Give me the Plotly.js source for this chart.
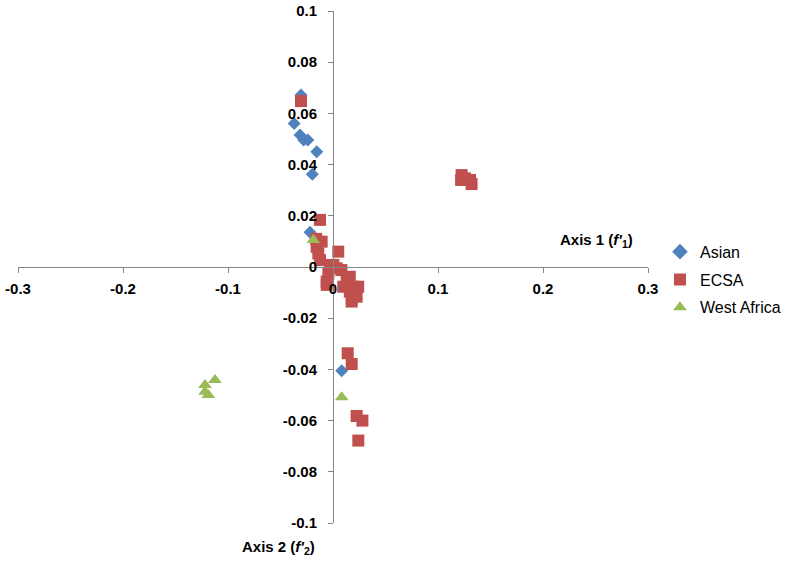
<!DOCTYPE html>
<html>
<head>
<meta charset="utf-8">
<script src="https://cdn.plot.ly/plotly-3.0.1.min.js"></script>
<style>html,body{margin:0;padding:0;background:#fff;}#chart{width:787px;height:561px;}</style>
</head>
<body>
<div id="chart"></div>
<script>
// Series names
const seriesNames = ["Asian", "ECSA", "West Africa"];

// Asian
const asianX = [-0.0305, -0.037, -0.0314, -0.028, -0.024, -0.0155, -0.0197, -0.0219, 0.0083];
const asianY = [0.0672, 0.0561, 0.0516, 0.0496, 0.0496, 0.045, 0.0362, 0.0136, -0.0405];

// ECSA
const ecsaX = [-0.0305, -0.0124, -0.0108, -0.0156, -0.014, -0.0124, -0.016, 0.005, 0.0003, -0.0029,
  0.008, 0.0035, -0.0044, 0.013, 0.016, -0.006, -0.006, 0.0098, 0.019, 0.024,
  0.016, 0.0194, 0.0225, 0.0178, 0.0178, 0.014, 0.0178, 0.0225, 0.028, 0.0241,
  0.1225, 0.1257, 0.1305, 0.132, 0.122];
const ecsaY = [0.0648, 0.0184, 0.0099, 0.0079, 0.0053, 0.0027, 0.011, 0.006, 0.0008, 0.0008,
  -0.0012, -0.0005, -0.0025, -0.005, -0.0038, -0.007, -0.0057, -0.0077, -0.0077, -0.0077,
  -0.0096, -0.009, -0.0116, -0.0122, -0.0135, -0.0337, -0.0379, -0.0582, -0.06, -0.0678,
  0.0359, 0.0346, 0.034, 0.0324, 0.034];

// West Africa
const waX = [-0.0187, -0.1124, -0.1219, -0.1219, -0.1187, 0.0083];
const waY = [0.0105, -0.0441, -0.0461, -0.0487, -0.05, -0.0509];

// Tick values and labels
const xTickVals = [-0.3, -0.2, -0.1, 0, 0.1, 0.2, 0.3];
const xTickText = ["-0.3", "-0.2", "-0.1", "0", "0.1", "0.2", "0.3"];
const yTickVals = [-0.1, -0.08, -0.06, -0.04, -0.02, 0, 0.02, 0.04, 0.06, 0.08, 0.1];
const yTickText = ["-0.1", "-0.08", "-0.06", "-0.04", "-0.02", "0", "0.02", "0.04", "0.06", "0.08", "0.1"];

const FONT = "Liberation Sans, Arial, sans-serif";
const axisColor = "#868686";

const traces = [
  {x: asianX, y: asianY, name: seriesNames[0], type: "scatter", mode: "markers", legendgroup: "a",
   marker: {symbol: "diamond", size: 10, color: "#4F81BD"}},
  {x: ecsaX, y: ecsaY, name: seriesNames[1], type: "scatter", mode: "markers", legendgroup: "b",
   marker: {symbol: "square", size: 12, color: "#C0504D"}},
  {x: waX, y: waY, name: seriesNames[2], type: "scatter", mode: "markers", legendgroup: "c",
   marker: {symbol: "triangle-up", size: 12, color: "#9BBB59"}}
];

const layout = {
  width: 787, height: 561,
  margin: {l: 18, r: 139, t: 11, b: 38, autoexpand: false},
  paper_bgcolor: "#fff", plot_bgcolor: "#fff",
  showlegend: true,
  legend: {x: 1.019, y: 0.563, xanchor: "left", yanchor: "top",
           font: {family: FONT, size: 16, color: "#000"},
           tracegroupgap: 4, itemsizing: "constant", itemwidth: 30},
  xaxis: {range: [-0.3, 0.3], anchor: "free", position: 0.5,
          showgrid: false, zeroline: false, showline: true, linecolor: axisColor, linewidth: 1,
          ticks: "outside", ticklen: 5, tickcolor: axisColor,
          tickvals: xTickVals, ticktext: xTickText, ticklabelstandoff: 3,
          tickfont: {family: FONT, size: 15, color: "#000", weight: "bold"}},
  yaxis: {range: [-0.1, 0.1], anchor: "free", position: 0.5,
          showgrid: false, zeroline: false, showline: true, linecolor: axisColor, linewidth: 1,
          ticks: "outside", ticklen: 5, tickcolor: axisColor,
          tickvals: yTickVals, ticktext: yTickText, ticklabelstandoff: 8,
          tickfont: {family: FONT, size: 15, color: "#000", weight: "bold"}},
  annotations: [
    {xref: "paper", yref: "paper", x: 0.919, y: 0.551, xanchor: "center", yanchor: "middle",
     text: "<b>Axis 1 (<i>f'</i><sub>1</sub>)</b>", showarrow: false,
     font: {family: FONT, size: 15, color: "#000"}},
    {xref: "paper", yref: "paper", x: 0.413, y: -0.047, xanchor: "center", yanchor: "middle",
     text: "<b>Axis 2 (<i>f'</i><sub>2</sub>)</b>", showarrow: false,
     font: {family: FONT, size: 15, color: "#000"}}
  ]
};

Plotly.newPlot("chart", traces, layout, {staticPlot: true, displayModeBar: false});
</script>
</body>
</html>
